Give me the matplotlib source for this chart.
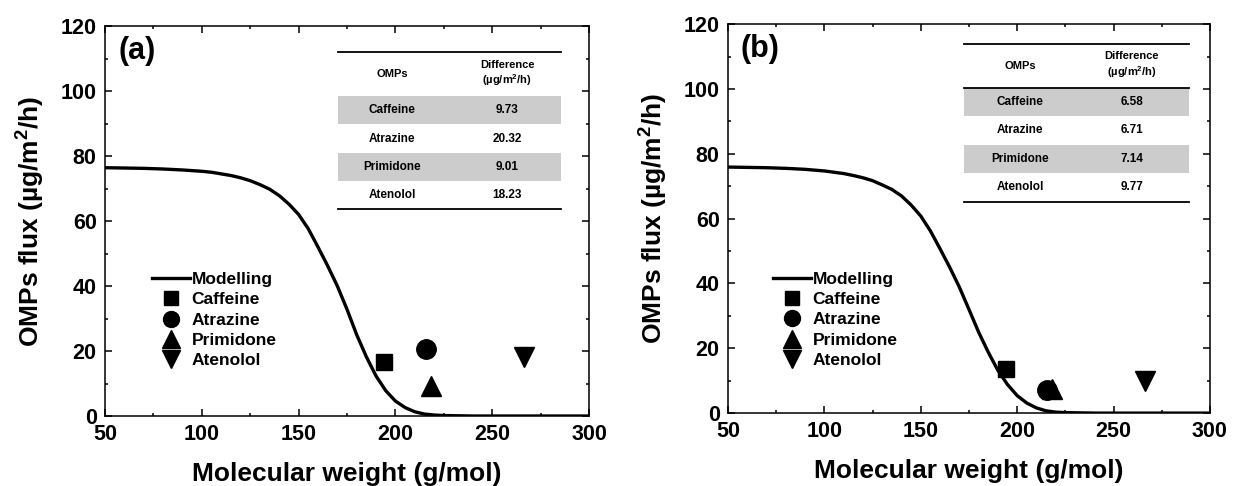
import matplotlib
matplotlib.use("Agg")
import matplotlib.pyplot as plt
from matplotlib.patches import Rectangle
from matplotlib.ticker import MultipleLocator

plt.rcParams["font.family"] = ["Liberation Sans", "DejaVu Sans"]
plt.rcParams["font.weight"] = "bold"
plt.rcParams["mathtext.fontset"] = "custom"
plt.rcParams["mathtext.rm"] = "Liberation Sans:bold"
plt.rcParams["mathtext.default"] = "rm"

# modelled flux curve
mw_model = [50, 60, 70, 80, 90, 100, 105, 110, 115, 120, 125, 130, 135, 140, 145, 150,
            155, 160, 165, 170, 175, 180, 185, 190, 195, 200, 205, 210, 215, 220, 225,
            230, 240, 250, 300]
flux_model_a = [76.4, 76.3, 76.2, 76.0, 75.7, 75.3, 75.0, 74.5, 74.0, 73.3, 72.4, 71.2,
                69.8, 67.8, 65.2, 62.0, 57.6, 52.0, 46.2, 40.0, 32.8, 25.0, 18.2, 12.3,
                7.8, 4.6, 2.6, 1.3, 0.6, 0.3, 0.15, 0.1, 0.0, 0.0, 0.0]
flux_model_b = [75.9, 75.8, 75.7, 75.5, 75.2, 74.7, 74.3, 73.9, 73.3, 72.6, 71.7, 70.4,
                69.0, 67.0, 64.2, 60.8, 56.2, 50.7, 45.0, 38.9, 32.0, 25.0, 18.8, 13.2,
                8.8, 5.4, 3.1, 1.6, 0.7, 0.3, 0.15, 0.1, 0.0, 0.0, 0.0]

omps = ["Caffeine", "Atrazine", "Primidone", "Atenolol"]
mw_omps = [194.2, 215.7, 218.3, 266.4]
flux_a = [16.7, 20.6, 9.3, 18.2]
flux_b = [13.6, 7.0, 7.4, 9.8]
diff_a = ["9.73", "20.32", "9.01", "18.23"]
diff_b = ["6.58", "6.71", "7.14", "9.77"]

MARKERS = ["s", "o", "^", "v"]
MSIZE = [12, 14, 15, 15]
SHADE = "#cccccc"

fig = plt.figure(figsize=(12.33, 4.86), dpi=100)
ax_a = fig.add_axes([0.0852, 0.144, 0.3925, 0.8025])
ax_b = fig.add_axes([0.5904, 0.150, 0.3909, 0.8004])


def panel(ax, flux_model, flux, diffs, tag, tab, leg, header_line):
    ax.plot(mw_model, flux_model, color="k", lw=2.4, label="Modelling", zorder=3)
    for m, s, x, y, name in zip(MARKERS, MSIZE, mw_omps, flux, omps):
        ax.plot(x, y, ls="none", marker=m, ms=s, color="k", label=name, zorder=4)

    ax.set_xlim(50, 300)
    ax.set_ylim(0, 120)
    ax.xaxis.set_major_locator(MultipleLocator(50))
    ax.xaxis.set_minor_locator(MultipleLocator(25))
    ax.yaxis.set_major_locator(MultipleLocator(20))
    ax.yaxis.set_minor_locator(MultipleLocator(10))
    ax.tick_params(which="both", direction="in", top=True, right=True, width=1.1)
    ax.tick_params(which="major", length=5, labelsize=15.5, pad=6)
    ax.tick_params(which="minor", length=2.5)
    for sp in ax.spines.values():
        sp.set_linewidth(1.1)
    for lab in ax.get_xticklabels() + ax.get_yticklabels():
        lab.set_fontweight("bold")

    ax.set_xlabel("Molecular weight (g/mol)", fontsize=19, fontweight="bold", labelpad=12)
    ax.set_ylabel("OMPs flux (µg/m$^2$/h)", fontsize=19, fontweight="bold", labelpad=10)

    ax.text(0.027, 0.975, tag, transform=ax.transAxes, ha="left", va="top",
            fontsize=22, fontweight="bold")

    # inset table
    x0, x1, c1, c2, ys = tab
    tr = ax.transAxes
    for i in (0, 2):
        ax.add_patch(Rectangle((x0, ys[i + 2]), x1 - x0, ys[i + 1] - ys[i + 2],
                               transform=tr, fc=SHADE, ec="none", zorder=1))
    lines = [ys[0], ys[-1]] + ([ys[1]] if header_line else [])
    for y in lines:
        ax.plot([x0, x1], [y, y], transform=tr, color="k", lw=1.3, zorder=2)
    hy = (ys[0] + ys[1]) / 2
    ax.text(c1, hy, "OMPs", transform=tr, ha="center", va="center", fontsize=8,
            fontweight="bold")
    ax.text(c2, hy, "Difference\n(µg/m$^2$/h)", transform=tr, ha="center", va="center",
            fontsize=8, fontweight="bold", linespacing=1.2)
    for i, (name, d) in enumerate(zip(omps, diffs)):
        ym = (ys[i + 1] + ys[i + 2]) / 2
        ax.text(c1, ym, name, transform=tr, ha="center", va="center", fontsize=8.5,
                fontweight="bold")
        ax.text(c2, ym, d, transform=tr, ha="center", va="center", fontsize=8.5,
                fontweight="bold")

    handles, labels = ax.get_legend_handles_labels()
    ax.legend(handles, labels, loc="upper left", bbox_to_anchor=leg, frameon=False,
              prop=dict(weight="bold", size=12.5), handlelength=2.2, handletextpad=0.1,
              labelspacing=0.3, borderpad=0, borderaxespad=0, numpoints=1,
              markerscale=0.82)


panel(ax_a, flux_model_a, flux_a, diff_a, "(a)",
      (0.481, 0.942, 0.593, 0.831, [0.934, 0.820, 0.749, 0.674, 0.603, 0.531]),
      (0.0965, 0.37), False)
panel(ax_b, flux_model_b, flux_b, diff_b, "(b)",
      (0.490, 0.956, 0.606, 0.838, [0.950, 0.837, 0.763, 0.690, 0.617, 0.543]),
      (0.093, 0.364), True)

fig.savefig("out.png", dpi=100)
